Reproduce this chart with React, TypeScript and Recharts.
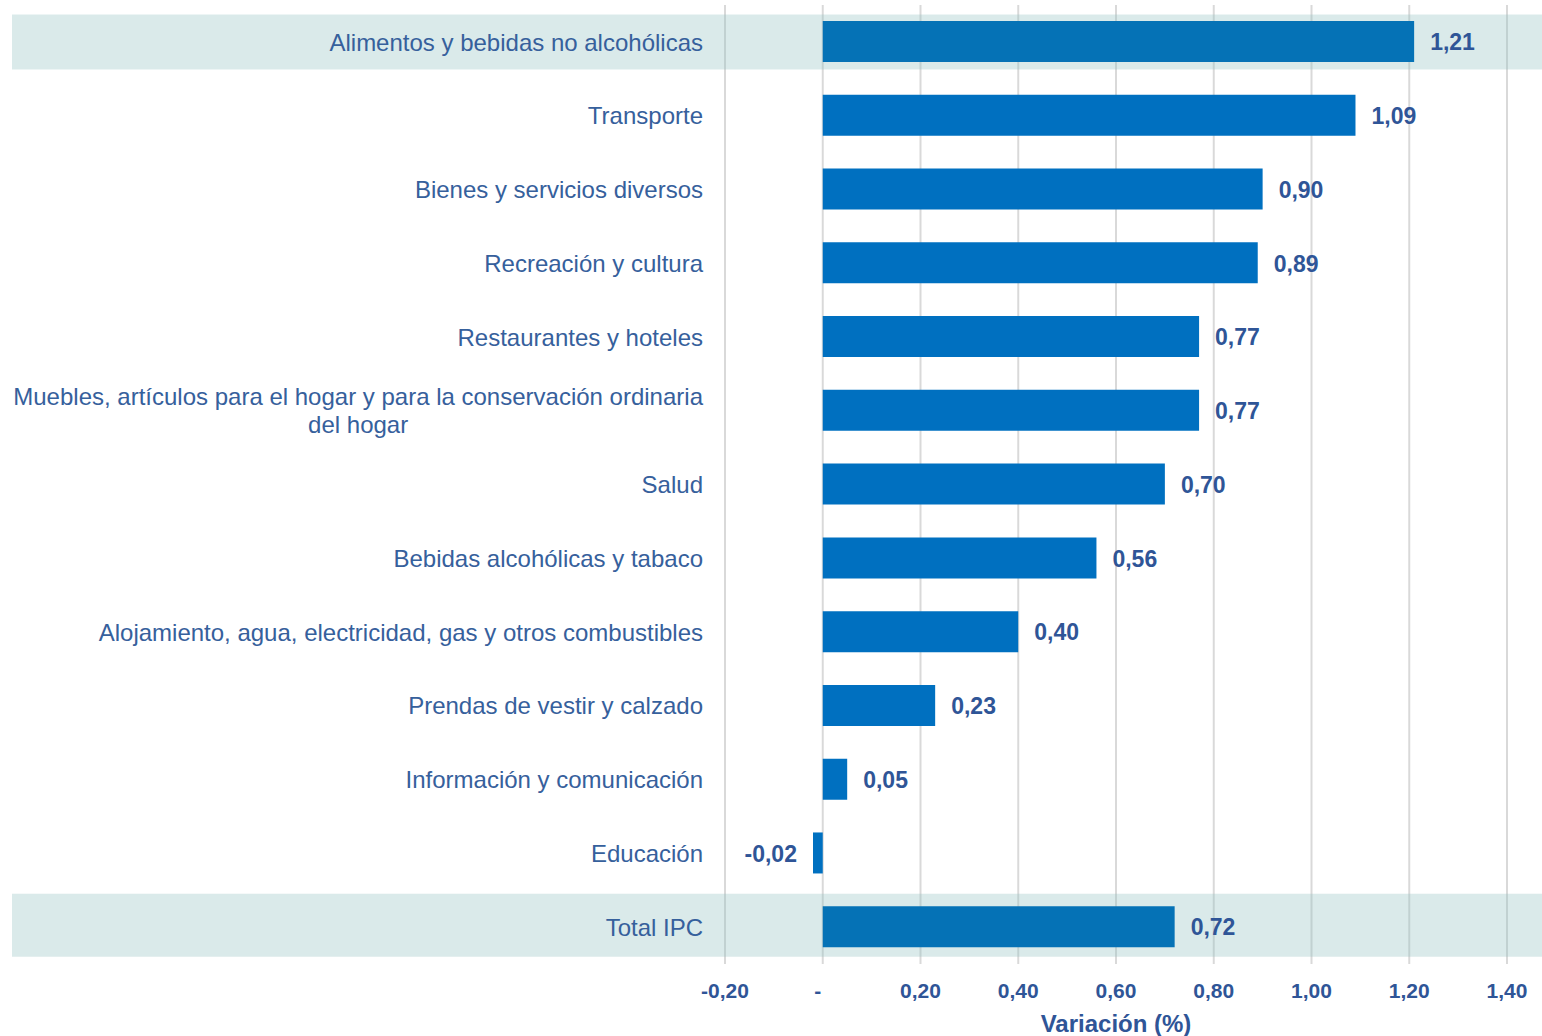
import React from 'react';
import { BarChart, Bar, XAxis, YAxis, CartesianGrid, Cell, LabelList } from 'recharts';

const categories = [
  'Alimentos y bebidas no alcohólicas',
  'Transporte',
  'Bienes y servicios diversos',
  'Recreación y cultura',
  'Restaurantes y hoteles',
  'Muebles, artículos para el hogar y para la conservación ordinaria del hogar',
  'Salud',
  'Bebidas alcohólicas y tabaco',
  'Alojamiento, agua, electricidad, gas y otros combustibles',
  'Prendas de vestir y calzado',
  'Información y comunicación',
  'Educación',
  'Total IPC',
];

const values = [1.21, 1.09, 0.9, 0.89, 0.77, 0.77, 0.7, 0.56, 0.4, 0.23, 0.05, -0.02, 0.72];

const highlighted = ['Alimentos y bebidas no alcohólicas', 'Total IPC'];

const xTicks = [-0.2, 0, 0.2, 0.4, 0.6, 0.8, 1.0, 1.2, 1.4];

const data = categories.map((name, i) => ({ name, value: values[i] }));

const FONT = "'Liberation Sans', Arial, sans-serif";
const TEXT_BLUE = '#2f5597';
const LABEL_BLUE = '#36609c';

const fmt = (v: number) => (Math.abs(v) < 1e-9 ? '-' : v.toFixed(2).replace('.', ','));

let ctx: CanvasRenderingContext2D | null = null;
const measure = (s: string, font: string) => {
  if (!ctx) ctx = document.createElement('canvas').getContext('2d');
  if (!ctx) return s.length * 11;
  ctx.font = font;
  return ctx.measureText(s).width;
};

const wrap = (s: string, max: number) => {
  const words = s.split(' ');
  const lines: string[] = [];
  let cur = '';
  words.forEach((w) => {
    const next = cur ? cur + ' ' + w : w;
    if (next.length > max && cur) {
      lines.push(cur);
      cur = w;
    } else cur = next;
  });
  if (cur) lines.push(cur);
  return lines;
};

const CategoryTick = (props: any) => {
  const { x, y, payload } = props;
  const lines = wrap(payload.value, 66);
  if (lines.length === 1) {
    return (
      <text x={x} y={y} dy="0.36em" textAnchor="end" fontFamily={FONT} fontSize={24} fill={LABEL_BLUE}>
        {lines[0]}
      </text>
    );
  }
  const w = Math.max(...lines.map((l) => measure(l, `24px ${FONT}`)));
  const cx = x - w / 2;
  const lh = 28;
  const top = y - ((lines.length - 1) * lh) / 2;
  return (
    <text textAnchor="middle" fontFamily={FONT} fontSize={24} fill={LABEL_BLUE}>
      {lines.map((l, i) => (
        <tspan key={i} x={cx} y={top + i * lh} dy="0.36em">
          {l}
        </tspan>
      ))}
    </text>
  );
};

// x tick: zero shows as "-" sitting a little left of its gridline (accounting format)
const ValueTick = (props: any) => {
  const { x, y, payload } = props;
  const v = Number(payload.value);
  const zero = Math.abs(v) < 1e-9;
  return (
    <text
      x={zero ? x - 5 : x}
      y={y}
      dy="0.71em"
      textAnchor="middle"
      fontFamily={FONT}
      fontSize={21}
      fontWeight="bold"
      fill={TEXT_BLUE}
    >
      {fmt(v)}
    </text>
  );
};

const ValueLabel = (props: any) => {
  const vb = props.viewBox || props;
  const x = Number(vb.x ?? props.x);
  const w = Number(vb.width ?? props.width);
  const y = Number(vb.y ?? props.y);
  const h = Number(vb.height ?? props.height);
  const v = Number(props.value);
  const neg = v < 0;
  const end = neg ? Math.min(x, x + w) : Math.max(x, x + w);
  return (
    <text
      x={neg ? end - 16 : end + 16}
      y={y + h / 2}
      dy="0.38em"
      textAnchor={neg ? 'end' : 'start'}
      fontFamily={FONT}
      fontSize={23}
      fontWeight="bold"
      fill={TEXT_BLUE}
    >
      {fmt(v)}
    </text>
  );
};

const RowBand = (props: any) => {
  const { y, height, index } = props;
  const name = categories[index];
  if (!highlighted.includes(name)) return <g key={`bg-${index}`} />;
  const cy = y + height / 2;
  const first = index === 0;
  const top = first ? cy - 27 : cy - 33;
  const bottom = first ? cy + 28 : cy + 30;
  return (
    <rect
      key={`bg-${index}`}
      x={12}
      y={top}
      width={1542 - 12}
      height={bottom - top}
      fill="rgb(150,195,195)"
      fillOpacity={0.35}
    />
  );
};

export default function App() {
  return (
    <div style={{ position: 'absolute', left: 0, top: 0, background: '#fff' }}>
      <BarChart
        width={1542}
        height={1036}
        data={data}
        layout="vertical"
        margin={{ top: 5, right: 35, left: 0, bottom: 0 }}
      >
        <CartesianGrid horizontal={false} stroke="rgba(0,0,0,0.15)" strokeWidth={2} />
        <XAxis
          type="number"
          domain={[-0.2, 1.4]}
          ticks={xTicks}
          axisLine={false}
          tickLine={false}
          tickSize={0}
          tickMargin={19}
          height={72}
          tick={<ValueTick />}
          label={{
            value: 'Variación (%)',
            position: 'insideBottom',
            offset: 4,
            style: { fontFamily: FONT, fontSize: 24, fontWeight: 'bold', fill: TEXT_BLUE },
          }}
        />
        <YAxis
          type="category"
          dataKey="name"
          width={725}
          axisLine={false}
          tickLine={false}
          tickSize={0}
          tickMargin={22}
          interval={0}
          tick={<CategoryTick />}
        />
        <Bar dataKey="value" barSize={41} isAnimationActive={false} background={RowBand}>
          {data.map((d) => (
            <Cell key={d.name} fill={highlighted.includes(d.name) ? '#0572b6' : '#0070c0'} />
          ))}
          <LabelList dataKey="value" content={ValueLabel} />
        </Bar>
      </BarChart>
    </div>
  );
}
